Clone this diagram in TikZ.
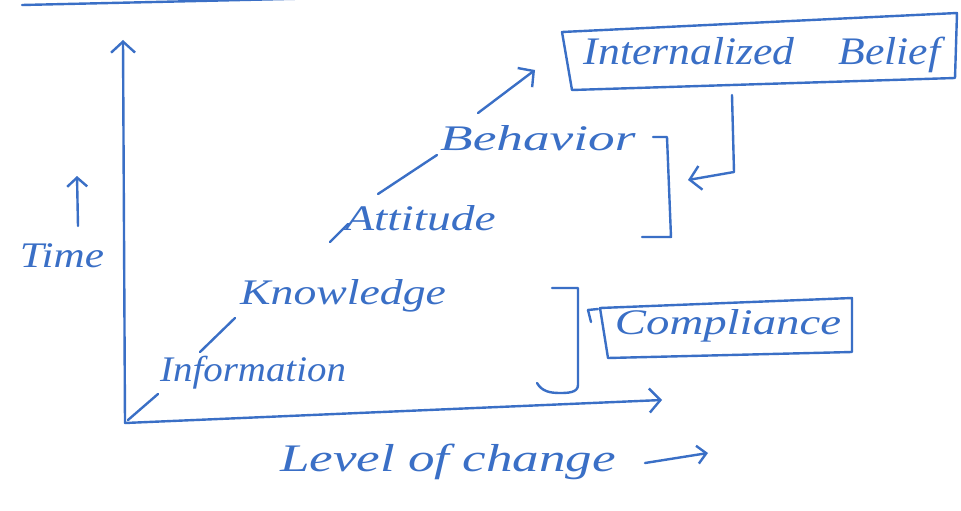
\documentclass[tikz,border=0pt]{standalone}
\usepackage{graphicx}
\usepackage{fontspec}
\setmainfont{Liberation Serif}
\usetikzlibrary{arrows.meta}
\definecolor{ink}{HTML}{3A6FC6}
% a word written wide, as handwriting runs
\newcommand\wideword[2]{\scalebox{#1}[1]{#2}}
\tikzset{
  pen/.style={draw=ink, line width=2.4pt, line cap=round, line join=round},
  barb/.style={-{Straight Barb[length=11pt,width=24pt,line width=2.4pt]}},
  word/.style={text=ink, font=\itshape\fontsize{36}{40}\selectfont, inner sep=0pt},
  bigword/.style={text=ink, font=\itshape\fontsize{39}{44}\selectfont, inner sep=0pt},
}
\begin{document}
\begin{tikzpicture}[x=1pt,y=-1pt]
\useasboundingbox (0,0) rectangle (961,511);
\fill[white] (0,0) rectangle (961,511);

% stroke running off the top edge
\begin{scope}
\clip (0,0) rectangle (961,511);
\coordinate (topA) at (22,5);
\coordinate (topB) at (330,-2);
\draw[pen] (topA) -- (topB);
\end{scope}

% axes
\coordinate (origin) at (125,423);
\coordinate (ytip) at (123,40);
\coordinate (xtip) at (662,400);
\draw[pen,barb] (origin) -- (ytip);
\draw[pen,barb] (origin) -- (xtip);

% axis labels
\node[word] (time) at (62,256) {\wideword{1.2}{Time}};
\coordinate (tbase) at (78,226);
\coordinate (ttip) at (77,176);
\draw[pen,-{Straight Barb[length=9pt,width=20pt,line width=2.4pt]}] (tbase) -- (ttip);

\node[bigword,anchor=west] (level) at (280,462) {\wideword{1.36}{Level of change}};
\coordinate (lvA) at (645,463);
\coordinate (lvB) at (708,453);
\draw[pen,-{Straight Barb[length=9pt,width=18pt,line width=2.4pt]}] (lvA) -- (lvB);

% the staircase of stages
\node[word,anchor=west] (info) at (160,373) {\wideword{1.08}{Information}};
\node[word,anchor=west] (know) at (240,296) {\wideword{1.27}{Knowledge}};
\node[word,anchor=west] (att)  at (345,218) {\wideword{1.32}{Attitude}};
\node[word,anchor=west] (beh)  at (440,138) {\wideword{1.48}{Behavior}};

\coordinate (s1a) at (128,420); \coordinate (s1b) at (158,394);
\coordinate (s2a) at (200,352); \coordinate (s2b) at (235,318);
\coordinate (s3a) at (330,242); \coordinate (s3b) at (348,224);
\coordinate (s4a) at (378,194); \coordinate (s4b) at (437,155);
\coordinate (s5a) at (478,113); \coordinate (s5b) at (535,70);
\draw[pen] (s1a) -- (s1b);
\draw[pen] (s2a) -- (s2b);
\draw[pen] (s3a) -- (s3b);
\draw[pen] (s4a) -- (s4b);
\draw[pen,barb] (s5a) -- (s5b);

% internalized belief box
\node[bigword] (belief) at (762,55) {\wideword{1.12}{Internalized\quad Belief}};
\draw[pen] (562,32) -- (957,13) -- (955,78) -- (572,90) -- cycle;
\coordinate (bdrop) at (732,95);
\coordinate (bturn) at (734,172);
\coordinate (btip) at (688,180);
\draw[pen,barb] (bdrop) -- (bturn) -- (btip);

% bracket beside behaviour/attitude
\draw[pen] (653,137) -- (667,137) -- (671,237) -- (642,237);

% bracket beside knowledge/information
\draw[pen] (552,288) -- (578,288) -- (578,385) to[out=-90,in=0] (560,393) to[out=180,in=-60] (537,383);

% compliance box
\node[word] (comp) at (728,326) {\wideword{1.3}{Compliance}};
\draw[pen] (600,308) -- (852,298) -- (852,352) -- (608,358) -- cycle;
\draw[pen] (588,310) -- (591,322);
\draw[pen] (588,310) -- (598,309);
\end{tikzpicture}
\end{document}
